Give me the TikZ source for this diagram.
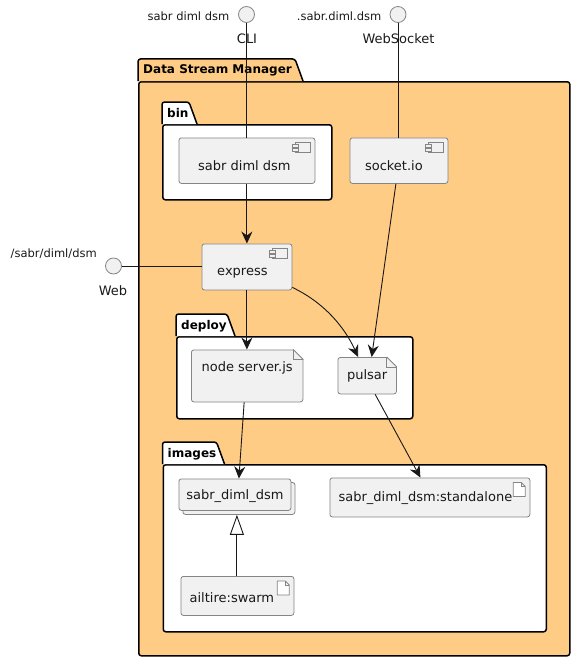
\documentclass[tikz,border=0pt]{standalone}
\usepackage{fontspec}
\setmainfont{DejaVu Sans}
\usepackage{xcolor}
\usetikzlibrary{arrows.meta, positioning}
\definecolor{pkgorange}{HTML}{FFCC85}
\definecolor{boxfill}{HTML}{F1F1F1}
\definecolor{boxline}{HTML}{858585}
\definecolor{inkline}{HTML}{181818}

% tab of a package, above the body node
\newcommand{\pkgtab}[4]{
    \draw[pkgline, fill=#3, rounded corners=2.5pt] (#1.north west) -- ++(0,-22) -- ++(#2-8,0) -- ++(8,22);
    \node[pkgtitle] (#1title) at ([xshift=5pt, yshift=7pt]#1.north west) {#4};
}
% small component sign in the top right corner
\newcommand{\compicon}[1]{
    \draw[thinline, fill=boxfill] ([xshift=-19.5pt, yshift=-5pt]#1.north east) rectangle ++(15,10);
    \draw[thinline, fill=boxfill] ([xshift=-22.5pt, yshift=-7pt]#1.north east) rectangle ++(6,3);
    \draw[thinline, fill=boxfill] ([xshift=-22.5pt, yshift=-11pt]#1.north east) rectangle ++(6,3);
}
% folded corner of a file
\newcommand{\docfold}[1]{
    \fill[white] ([xshift=-10pt, yshift=0.6pt]#1.north east) -- ([xshift=0.6pt, yshift=0.6pt]#1.north east) -- ([xshift=0.6pt, yshift=-10pt]#1.north east) -- cycle;
    \draw[thinline] ([xshift=-10pt]#1.north east) -- ([yshift=-10pt]#1.north east);
    \draw[thinline] ([xshift=-10pt]#1.north east) -- ([xshift=-10pt, yshift=-10pt]#1.north east) -- ([yshift=-10pt]#1.north east);
}
% small file sign of an artifact
\newcommand{\artifacticon}[1]{
    \draw[thinline, fill=white] ([xshift=-17pt, yshift=-5pt]#1.north east) -- ++(8,0) -- ++(4,4) -- ++(0,10) -- ++(-12,0) -- cycle;
    \draw[thinline] ([xshift=-9pt, yshift=-5pt]#1.north east) -- ++(0,4) -- ++(4,0);
}

\begin{document}
\begin{tikzpicture}[
    x=1pt, y=-1pt,
    every node/.style={font=\fontsize{13}{16}\selectfont, inner sep=0pt, text=black!90},
    every label/.style={font=\fontsize{13}{16}\selectfont, inner sep=0pt, text=black!90},
    pkgline/.style={line width=1.5pt, draw=black},
    thinline/.style={line width=0.8pt, draw=boxline},
    pkgbody/.style={rectangle, pkgline, fill=white, rounded corners=2.5pt, anchor=north west},
    pkgtitle/.style={anchor=base west, font=\fontsize{12}{16}\selectfont\bfseries, text=black},
    block/.style={rectangle, thinline, fill=boxfill, rounded corners=2.5pt, anchor=north west},
    port/.style={circle, thinline, fill=boxfill, minimum size=16pt},
    small/.style={font=\fontsize{11.5}{15}\selectfont},
    arrow/.style={-{Stealth[length=12pt, width=11pt, inset=4pt]}, line width=0.9pt, draw=inkline},
    link/.style={line width=0.9pt, draw=inkline},
    extends/.style={-{Triangle[length=20pt, width=14pt, fill=white]}, line width=0.9pt, draw=inkline}
]
    \useasboundingbox (0,0) rectangle (575,661);

    % packages
    \node[pkgbody, fill=pkgorange, minimum width=431pt, minimum height=574pt] (dsm) at (138,81) {};
    \pkgtab{dsm}{165}{pkgorange}{Data Stream Manager}
    \node[pkgbody, minimum width=169pt, minimum height=75pt] (bin) at (162,124) {};
    \pkgtab{bin}{35}{white}{bin}
    \node[pkgbody, minimum width=236pt, minimum height=82pt] (deploy) at (176,336) {};
    \pkgtab{deploy}{59}{white}{deploy}
    \node[pkgbody, minimum width=383pt, minimum height=167pt] (images) at (162.5,464) {};
    \pkgtab{images}{62}{white}{images}

    % components
    \node[block, minimum width=136pt, minimum height=45.5pt, label={[xshift=-2.5pt, yshift=-5pt]center:sabr diml dsm}] (cmd) at (178.5,137.5) {};
    \node[block, minimum width=98pt, minimum height=45.5pt, label={[xshift=-5pt, yshift=-5pt]center:socket.io}] (socket) at (349.5,137.5) {};
    \node[block, minimum width=90pt, minimum height=46pt, label={[xshift=-4.5pt, yshift=-6pt]center:express}] (express) at (201.5,243.5) {};
    \foreach \comp in {cmd, socket, express} {
        \compicon{\comp}
    }

    % files
    \node[block, minimum width=111.5pt, minimum height=52pt, label={[yshift=8pt]center:node server.js}] (server) at (191,349.5) {};
    \node[block, minimum width=58.5pt, minimum height=36.5pt, label={center:pulsar}] (pulsar) at (337.5,357) {};
    \foreach \doc in {server, pulsar} {
        \docfold{\doc}
    }

    % images
    \node[block, minimum width=112pt, minimum height=32pt] (stackback) at (182.5,482) {};
    \node[block, minimum width=112pt, minimum height=31.5pt, label={[yshift=-1pt]center:sabr\_diml\_dsm}] (stack) at (178.5,478.5) {};
    \node[block, minimum width=200pt, minimum height=39pt, label={[xshift=-4.5pt, yshift=-1pt]center:sabr\_diml\_dsm:standalone}] (standalone) at (329.5,477.5) {};
    \node[block, minimum width=113pt, minimum height=39pt, label={[xshift=-5.5pt, yshift=-1.5pt]center:ailtire:swarm}] (swarm) at (180.5,576) {};
    \foreach \art in {standalone, swarm} {
        \artifacticon{\art}
    }

    % interfaces
    \node[port] (cli) at (246.5,14.5) {};
    \node[port] (ws) at (398,14.5) {};
    \node[port] (web) at (113.5,266) {};
    \node[small, anchor=east] (clipath) at (229.5,16.5) {sabr diml dsm};
    \node[small, anchor=east] (wspath) at (381.5,16.5) {.sabr.diml.dsm};
    \node[small, anchor=east] (webpath) at (97,254) {/sabr/diml/dsm};
    \node (clilabel) at (247,39) {CLI};
    \node (wslabel) at (398.5,39) {WebSocket};
    \node (weblabel) at (113,291) {Web};

    \draw[link] (cli) -- (cli |- cmd.north);
    \draw[link] (ws) -- (ws |- socket.north);
    \draw[link] (web) -- (web -| express.west);
    \draw[arrow] (cmd) -- (express.north -| cmd.south);
    \draw[arrow] (express) -- (server.north -| express.south);
    \draw[arrow] ([yshift=-20.5pt]express.east) .. controls (325,303) and (345,328) .. ([xshift=-9pt]pulsar.north);
    \draw[arrow] ([xshift=-3pt]socket.south) -- ([xshift=4.5pt]pulsar.north);
    \draw[arrow] ([xshift=-3pt]server.south) -- ([xshift=4pt]stack.north);
    \draw[arrow] ([xshift=8pt]pulsar.south) -- ([xshift=-9.5pt]standalone.north);
    \draw[extends] ([xshift=-0.5pt]swarm.north) -- ([xshift=-2pt]stackback.south);
\end{tikzpicture}
\end{document}
